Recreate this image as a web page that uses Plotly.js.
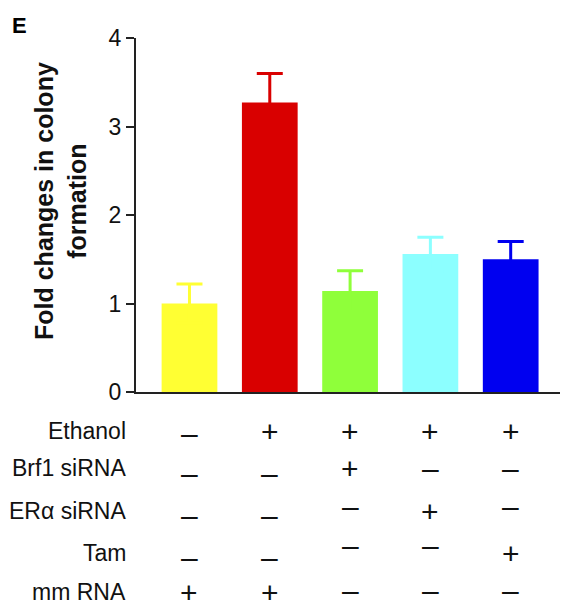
<!DOCTYPE html>
<html>
<head>
<meta charset="utf-8">
<script src="https://cdn.plot.ly/plotly-3.0.1.min.js"></script>
<style>html,body{margin:0;padding:0;background:#fff;}#chart{width:565px;height:608px;}</style>
</head>
<body>
<div id="chart"></div>
<script>
// ---- data ----
const groups = [0, 1, 2, 3, 4];
const foldChange = [1.00, 3.27, 1.14, 1.56, 1.50];
const sem = [0.22, 0.33, 0.23, 0.19, 0.20];
const barColors = ["#FFFF33", "#D90000", "#8FFF3A", "#8CFFFF", "#0000F0"];

const rowLabels = ["Ethanol", "Brf1 siRNA", "ERα siRNA", "Tam", "mm RNA"];
const ethanol = ["–", "+", "+", "+", "+"];
const brf1 = ["–", "–", "+", "–", "–"];
const eraSi = ["–", "–", "–", "+", "–"];
const tam = ["–", "–", "–", "–", "+"];
const mmRNA = ["+", "+", "–", "–", "–"];
const yTickVals = [0, 1, 2, 3, 4];

// ---- layout helpers (pixel geometry) ----
const L = 136, R = 5, T = 38, B = 216, W = 565, H = 608;
const pw = W - L - R, ph = H - T - B;
const px2x = p => (p - L) / pw;
const py2y = p => (H - B - p) / ph;
const font = "Liberation Sans, Arial, Helvetica, sans-serif";

const rowCenters = [431, 468, 511, 553, 592];
// vertical nudge of each minus sign (px, positive = down), styling only
const dashShift = [
  [2, 0, 0, 0, 0],
  [5, 5, 0, 0, 0],
  [4, 4, -5, 0, -5],
  [4, 4, -8, -8, 0],
  [0, 0, -2, -2, -2]
];
const rows = [ethanol, brf1, eraSi, tam, mmRNA];

const traces = groups.map((g, i) => ({
  type: "bar",
  x: [g],
  y: [foldChange[i]],
  width: 0.694,
  marker: { color: barColors[i], line: { width: 0 } },
  error_y: {
    type: "data", symmetric: true, array: [sem[i]],
    color: barColors[i], thickness: 3, width: 13
  },
  hoverinfo: "skip",
  showlegend: false
}));

const annotations = [];
annotations.push({
  text: "<b>E</b>", xref: "paper", yref: "paper",
  x: px2x(10), y: py2y(11), xanchor: "left", yanchor: "top",
  showarrow: false, font: { family: font, size: 22, color: "#000" }
});
annotations.push({
  text: "<b>Fold changes in colony<br>formation</b>", xref: "paper", yref: "paper",
  x: px2x(60), y: py2y(201), xanchor: "center", yanchor: "middle",
  textangle: -90, showarrow: false,
  font: { family: font, size: 25, color: "#111" }
});
rowLabels.forEach((lab, r) => {
  annotations.push({
    text: lab, xref: "paper", yref: "paper",
    x: px2x(128), y: py2y(rowCenters[r]), xanchor: "right", yanchor: "middle",
    showarrow: false, font: { family: font, size: 23, color: "#111" }
  });
  rows[r].forEach((sym, c) => {
    annotations.push({
      text: sym, xref: "x", yref: "paper",
      x: groups[c], y: py2y(rowCenters[r]), xanchor: "center", yanchor: "middle",
      yshift: sym === "+" ? 0 : -dashShift[r][c],
      showarrow: false, font: { family: font, size: 30, color: "#111" }
    });
  });
});

const layout = {
  width: W, height: H,
  margin: { l: L, r: R, t: T, b: B, pad: 0 },
  paper_bgcolor: "#fff", plot_bgcolor: "#fff",
  barmode: "overlay",
  showlegend: false,
  xaxis: {
    range: [-0.666, 4.614], showgrid: false, zeroline: false,
    showticklabels: false, ticks: "",
    showline: true, linecolor: "#222", linewidth: 2, fixedrange: true
  },
  yaxis: {
    range: [0, 4], tickvals: yTickVals, ticktext: yTickVals.map(String),
    showgrid: false, zeroline: false,
    showline: true, linecolor: "#222", linewidth: 2,
    ticks: "outside", ticklen: 8, tickwidth: 2, tickcolor: "#222",
    tickfont: { family: font, size: 23, color: "#111" },
    fixedrange: true
  },
  annotations: annotations
};

Plotly.newPlot("chart", traces, layout, { displayModeBar: false, staticPlot: true });
</script>
</body>
</html>
